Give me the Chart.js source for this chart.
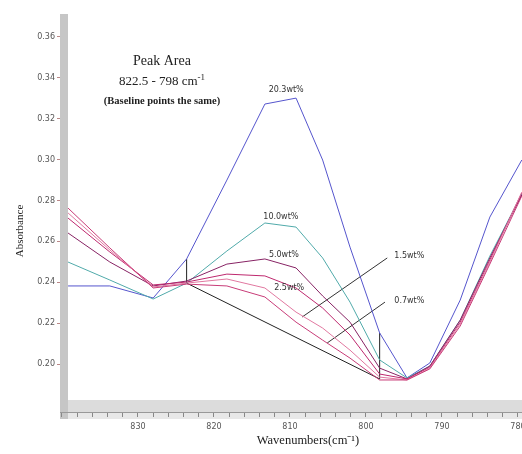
<!DOCTYPE html>
<html>
<head>
<meta charset="utf-8">
<script src="https://cdn.jsdelivr.net/npm/chart.js@4.4.1/dist/chart.umd.min.js"></script>
<style>
  html, body { margin: 0; padding: 0; background: #fff; }
</style>
</head>
<body>
<canvas id="spectra" width="522" height="454"></canvas>
<script>
// wavenumber grid of the spectra (cm-1)
const wavenumbers = [839.2, 833.7, 828.0, 823.6, 818.3, 813.3, 809.2, 805.7, 802.1, 798.2, 794.6, 791.6, 787.6, 783.7, 779.5];

// absorbance for each loading
const wt20_3 = [0.2382, 0.2382, 0.2323, 0.2514, 0.2900, 0.3272, 0.3301, 0.2998, 0.2572, 0.2152, 0.1932, 0.2005, 0.2313, 0.2719, 0.2998];
const wt10_0 = [0.2499, 0.2411, 0.2318, 0.2396, 0.2553, 0.2690, 0.2670, 0.2519, 0.2303, 0.2020, 0.1932, 0.1990, 0.2215, 0.2528, 0.2832];
const wt5_0  = [0.2641, 0.2499, 0.2382, 0.2406, 0.2489, 0.2514, 0.2470, 0.2333, 0.2205, 0.1980, 0.1927, 0.1990, 0.2215, 0.2519, 0.2827];
const wt2_5  = [0.2714, 0.2548, 0.2387, 0.2401, 0.2440, 0.2431, 0.2372, 0.2274, 0.2142, 0.1951, 0.1927, 0.1985, 0.2205, 0.2509, 0.2837];
const wt1_5  = [0.2739, 0.2558, 0.2377, 0.2396, 0.2416, 0.2372, 0.2254, 0.2176, 0.2068, 0.1936, 0.1922, 0.1980, 0.2196, 0.2499, 0.2841];
const wt0_7  = [0.2763, 0.2568, 0.2372, 0.2391, 0.2382, 0.2328, 0.2205, 0.2117, 0.2029, 0.1922, 0.1922, 0.1976, 0.2186, 0.2489, 0.2822];

// peak area baseline (822.5 - 798) and its end markers
const baselineX = [823.6, 798.2];
const baselineY = [0.2396, 0.1927];
const markerLeftY = [0.2396, 0.2514];
const markerRightY = [0.1927, 0.2152];

// leader lines for the two small labels
const leader15X = [797.2, 808.4];
const leader15Y = [0.2519, 0.2230];
const leader07X = [797.5, 805.1];
const leader07Y = [0.2303, 0.2103];

// series labels: text, wavenumber, absorbance
const labelText = ['20.3wt%', '10.0wt%', '5.0wt%', '2.5wt%', '1.5wt%', '0.7wt%'];
const labelX = [810.5, 811.2, 810.8, 810.1, 794.3, 794.3];
const labelY = [0.3341, 0.2719, 0.2533, 0.2372, 0.2528, 0.2308];

const pts = (xs, ys) => xs.map((x, i) => ({ x: x, y: ys[i] }));
const line = (data, color, width) => ({
    data: data,
    borderColor: color,
    borderWidth: width || 1,
    pointRadius: 0,
    fill: false,
    tension: 0
});

const datasets = [
    line(pts(wavenumbers, wt0_7), 'rgb(200,60,120)'),
    line(pts(wavenumbers, wt1_5), 'rgb(225,120,160)'),
    line(pts(wavenumbers, wt2_5), 'rgb(190,40,110)'),
    line(pts(wavenumbers, wt5_0), 'rgb(135,35,100)'),
    line(pts(wavenumbers, wt10_0), 'rgb(80,170,170)'),
    line(pts(wavenumbers, wt20_3), 'rgb(85,85,205)'),
    line(pts(baselineX, baselineY), '#222'),
    line(pts([baselineX[0], baselineX[0]], markerLeftY), '#222'),
    line(pts([baselineX[1], baselineX[1]], markerRightY), '#222'),
    line(pts(leader15X, leader15Y), '#333'),
    line(pts(leader07X, leader07Y), '#333')
];

// gray axis frame like the spectrometer software
const frame = {
    id: 'frame',
    beforeDraw(chart) {
        const c = chart.ctx, a = chart.chartArea;
        c.save();
        c.fillStyle = '#dcdcdc';
        c.fillRect(a.left, a.bottom - 12, a.right - a.left, 12);
        c.fillStyle = '#e8e8e8';
        c.fillRect(a.left, a.bottom, a.right - a.left, 7);
        c.fillStyle = '#c6c6c6';
        c.fillRect(a.left, a.top, 8, a.bottom - a.top + 7);
        c.restore();
    }
};

const texts = {
    id: 'texts',
    afterDatasetsDraw(chart) {
        const c = chart.ctx, xs = chart.scales.x, ys = chart.scales.y;
        c.save();
        c.fillStyle = '#333';
        c.textAlign = 'center';
        c.textBaseline = 'middle';
        c.font = '8px "DejaVu Sans"';
        labelText.forEach((t, i) => {
            c.fillText(t, xs.getPixelForValue(labelX[i]), ys.getPixelForValue(labelY[i]));
        });

        c.fillStyle = '#222';
        c.font = '14px "Liberation Serif"';
        c.fillText('Peak Area', 162, 61);
        c.font = '13px "Liberation Serif"';
        const main = '822.5 - 798 cm';
        const w = c.measureText(main).width;
        c.font = '9px "Liberation Serif"';
        const ws = c.measureText('-1').width;
        const x0 = 162 - (w + ws) / 2;
        c.textAlign = 'left';
        c.font = '13px "Liberation Serif"';
        c.fillText(main, x0, 82);
        c.font = '9px "Liberation Serif"';
        c.fillText('-1', x0 + w, 78);
        c.textAlign = 'center';
        c.font = 'bold 10.5px "Liberation Serif"';
        c.fillText('(Baseline points the same)', 162, 101);

        // axis titles
        c.font = '11px "Liberation Serif"';
        c.save();
        c.translate(20, 231);
        c.rotate(-Math.PI / 2);
        c.fillText('Absorbance', 0, 0);
        c.restore();
        c.font = '12.5px "Liberation Serif"';
        c.fillText('Wavenumbers(cm\u207B\u00B9)', 308, 441);
        c.restore();
    }
};

new Chart(document.getElementById('spectra').getContext('2d'), {
    type: 'line',
    data: { datasets: datasets },
    options: {
        responsive: false,
        animation: false,
        layout: { padding: { top: 14, right: 0, left: 0, bottom: 0 } },
        plugins: { legend: { display: false }, tooltip: { enabled: false } },
        scales: {
            x: {
                type: 'linear',
                reverse: true,
                min: 779.47,
                max: 840.26,
                afterFit: s => { s.height = 42; s.paddingLeft = 0; s.paddingRight = 0; },
                grid: { drawOnChartArea: false, drawTicks: true, tickLength: 5, color: '#888' },
                border: { display: true, color: '#999' },
                ticks: {
                    stepSize: 2,
                    includeBounds: false,
                    autoSkip: false,
                    maxRotation: 0,
                    padding: 5,
                    color: '#555',
                    font: { size: 8, family: 'DejaVu Sans' },
                    callback: v => (Math.abs(v % 10) < 1e-6 && v < 835 ? String(Math.round(v)) : '')
                }
            },
            y: {
                min: 0.17653,
                max: 0.37125,
                afterFit: s => { s.width = 60; s.paddingTop = 0; s.paddingBottom = 0; },
                afterBuildTicks: s => { s.ticks = s.ticks.filter(t => t.value > 0.195 && t.value < 0.365); },
                grid: { drawOnChartArea: false, drawTicks: true, tickLength: 3, color: '#b88' },
                border: { display: false },
                ticks: {
                    stepSize: 0.02,
                    includeBounds: false,
                    padding: 2,
                    color: '#555',
                    font: { size: 8, family: 'DejaVu Sans' },
                    callback: v => v.toFixed(2)
                }
            }
        }
    },
    plugins: [frame, texts]
});
</script>
</body>
</html>
